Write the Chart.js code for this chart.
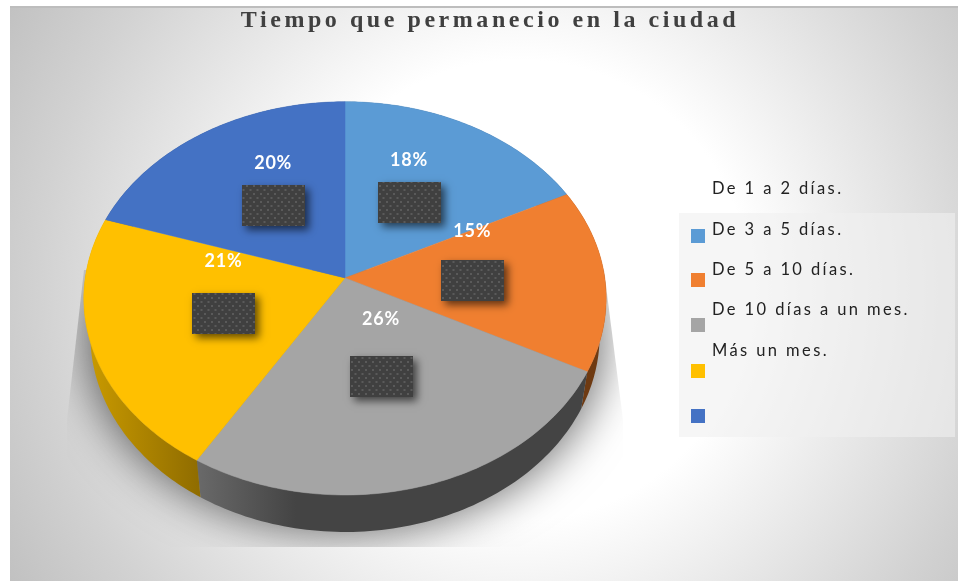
<!DOCTYPE html>
<html><head><meta charset="utf-8">
<style>html,body{margin:0;padding:0;background:#fff}canvas{display:block}</style>
<script src="https://cdn.jsdelivr.net/npm/chart.js@4"></script>
</head><body><canvas id="c" width="958" height="581"></canvas>
<script>
const chartTitle = "Tiempo que permanecio en la ciudad";
const categories = ["De 1 a 2 días.", "De 3 a 5 días.", "De 5 a 10 días.", "De 10 días a un mes.", "Más un mes."];
const values = [17.6, 15.0, 26.1, 21.3, 20.0];
const sliceColors = ["#5b9bd5", "#f07f30", "#a5a5a5", "#ffc000", "#4472c4"];
const wallStart = ["#3d5f80", "#6e3a12", "#686868", "#c99a00", "#2a4577"];
const wallEnd = ["#3d5f80", "#6e3a12", "#444444", "#8f6c00", "#2a4577"];
const labelLift = [42, 49, 57, 52, 43];

const P = 0.104, AX = 1.475, AY = 1.1045, DEPTH = 37, BASE = 0.975;
function pt(el, r, a, base) {
  const t = a + Math.PI / 2, u = r * Math.sin(t), v = -r * Math.cos(t), w = 1 - P * v;
  const R = el.outerRadius;
  let x = AX * R * u / w;
  let y = AY * R * v / w;
  if (base) { x *= BASE; y += DEPTH; }
  return [el.x + x, el.y + y];
}
function rim(ctx, el, a0, a1, base, move) {
  const n = 80;
  for (let i = 0; i <= n; i++) {
    const p = pt(el, 1, a0 + (a1 - a0) * i / n, base);
    if (i === 0 && move) ctx.moveTo(p[0], p[1]); else ctx.lineTo(p[0], p[1]);
  }
}
function dots() {
  const c = document.createElement('canvas'); c.width = 7; c.height = 8;
  const g = c.getContext('2d');
  g.fillStyle = '#404040'; g.fillRect(0, 0, 7, 8);
  g.fillStyle = '#5a5a5a'; g.fillRect(1, 1, 2, 2); g.fillRect(4.5, 5, 2, 2);
  return c;
}
const pie3d = {
  id: 'pie3d',
  beforeDraw(chart) {
    const ctx = chart.ctx;
    ctx.save();
    ctx.fillStyle = '#fff'; ctx.fillRect(0, 0, 958, 581);
    const g = ctx.createRadialGradient(520, 290, 0, 520, 290, 600);
    g.addColorStop(0, '#ffffff');
    g.addColorStop(230 / 600, '#ffffff');
    g.addColorStop(330 / 600, '#ededed');
    g.addColorStop(480 / 600, '#d2d2d2');
    g.addColorStop(1, '#bfbfbf');
    ctx.fillStyle = g; ctx.fillRect(10, 6, 948, 575);
    ctx.restore();
    ctx.fillStyle = '#bdbdbd'; ctx.fillRect(10, 6, 948, 2);
    // legend panel
    ctx.fillStyle = 'rgba(240,240,240,0.6)'; ctx.fillRect(679, 213, 276, 224);
    const t = chart.titleBlock;
    if (t && !t._spaced) {
      const d = t.draw; t._spaced = true;
      t.draw = function () {
        const c = this.ctx; c.save(); c.letterSpacing = '3.55px'; c.translate(145, 0); d.call(this); c.restore();
      };
    }
  },
  beforeDatasetDraw(chart) {
    const ctx = chart.ctx, arcs = chart.getDatasetMeta(0).data, e0 = arcs[0];
    // shadow: only the blurred shadow of the base outline, clipped to a soft-sided shape
    ctx.save();
    ctx.beginPath();
    ctx.moveTo(84, 270); ctx.lineTo(67, 420); ctx.lineTo(67, 547);
    ctx.lineTo(623, 547); ctx.lineTo(623, 420); ctx.lineTo(604, 270);
    ctx.closePath(); ctx.clip();
    ctx.shadowColor = 'rgba(0,0,0,0.55)'; ctx.shadowBlur = 44; ctx.shadowOffsetX = 2000; ctx.shadowOffsetY = 2;
    ctx.fillStyle = '#000';
    ctx.translate(-2000 + e0.x, 0); ctx.scale(1.02, 1); ctx.translate(-e0.x, 0);
    ctx.beginPath(); rim(ctx, e0, 0, Math.PI * 2, true, true); ctx.closePath(); ctx.fill();
    ctx.restore();
    // walls
    arcs.forEach((el, i) => {
      const p0 = pt(el, 1, el.startAngle, true), p1 = pt(el, 1, el.endAngle, true);
      const g = ctx.createLinearGradient(Math.min(p0[0], p1[0]), 0, Math.max(p0[0], p1[0]), 0);
      const leftIsEnd = p1[0] < p0[0];
      if (i === 2) { g.addColorStop(0, wallStart[i]); g.addColorStop(0.25, wallEnd[i]); g.addColorStop(1, wallEnd[i]); }
      else if (leftIsEnd) { g.addColorStop(0, wallEnd[i]); g.addColorStop(1, wallStart[i]); }
      else { g.addColorStop(0, wallStart[i]); g.addColorStop(1, wallEnd[i]); }
      ctx.fillStyle = (i === 3) ? (() => { const q = ctx.createLinearGradient(88, 0, 200, 0); q.addColorStop(0, wallStart[3]); q.addColorStop(1, wallEnd[3]); return q; })() : g;
      ctx.beginPath();
      rim(ctx, el, el.startAngle, el.endAngle, false, true);
      rim(ctx, el, el.endAngle, el.startAngle, true, false);
      ctx.closePath(); ctx.fill();
    });
    // top face
    arcs.forEach((el, i) => {
      ctx.fillStyle = sliceColors[i];
      ctx.strokeStyle = sliceColors[i]; ctx.lineWidth = 0.5;
      ctx.beginPath(); ctx.moveTo(el.x, el.y);
      rim(ctx, el, el.startAngle, el.endAngle, false, false);
      ctx.closePath(); ctx.fill(); ctx.stroke();
    });
    return false;
  },
  afterDraw(chart) {
    const ctx = chart.ctx, arcs = chart.getDatasetMeta(0).data;
    const pat = ctx.createPattern(dots(), 'repeat');
    arcs.forEach((el, i) => {
      const m = (el.startAngle + el.endAngle) / 2, c = pt(el, 0.49, m, false);
      c[1] += 2;
      const x = Math.round(c[0] - 31.5), y = Math.round(c[1] - 20.5);
      ctx.save();
      ctx.shadowColor = 'rgba(0,0,0,0.6)'; ctx.shadowBlur = 8; ctx.shadowOffsetX = 4; ctx.shadowOffsetY = 4;
      ctx.fillStyle = '#404040'; ctx.fillRect(x, y, 63, 41);
      ctx.restore();
      ctx.fillStyle = pat; ctx.fillRect(x, y, 63, 41);
      ctx.save();
      ctx.fillStyle = '#fff'; ctx.font = 'bold 18px Lato, "Open Sans", sans-serif'; ctx.letterSpacing = '0.8px';
      ctx.textAlign = 'center'; ctx.textBaseline = 'middle';
      ctx.fillText(Math.round(values[i]) + '%', c[0], c[1] - labelLift[i]);
      ctx.restore();
    });
    // legend
    ctx.save();
    ctx.font = '16.5px Lato, "Open Sans", sans-serif'; ctx.letterSpacing = '2.4px';
    ctx.fillStyle = '#222'; ctx.textAlign = 'left'; ctx.textBaseline = 'middle';
    categories.forEach((t, i) => ctx.fillText(t, 712, 189 + i * 40.3));
    ctx.restore();
    const sw = [229, 273, 318, 364, 409];
    sliceColors.forEach((col, i) => { ctx.fillStyle = col; ctx.fillRect(691, sw[i], 14, 14); });
  }
};
new Chart(document.getElementById('c'), {
  type: 'pie',
  data: { labels: categories, datasets: [{ data: values, backgroundColor: sliceColors, borderWidth: 0 }] },
  options: {
    responsive: false, animation: false,
    layout: { padding: { left: 83, right: 351, top: 0, bottom: 127 } },
    plugins: {
      legend: { display: false }, tooltip: { enabled: false },
      title: { display: true, text: chartTitle, color: '#404040',
        font: { family: '"Liberation Serif", serif', size: 24, weight: 'bold', lineHeight: 1.2 },
        padding: { top: 6, bottom: 67 } }
    }
  },
  plugins: [pie3d]
});
</script></body></html>
